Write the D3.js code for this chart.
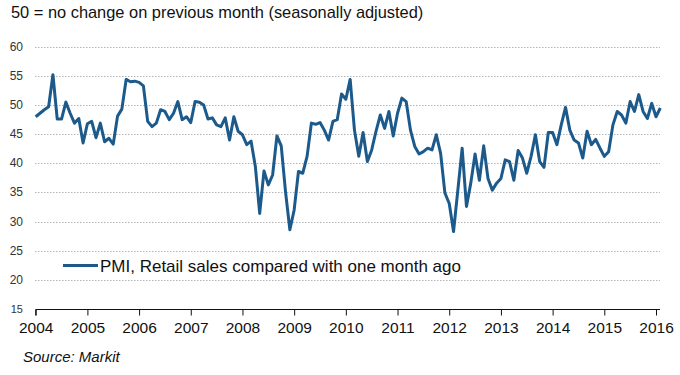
<!DOCTYPE html>
<meta charset="utf-8">
<style>
  body { margin: 0; background: #fff; }
  svg { display: block; font-family: "Liberation Sans", Arial, sans-serif; }
  .grid line { stroke: #b5b5b5; stroke-dasharray: 1.5,1.5; stroke-width: 1; }
  .ylab { fill: #333; font-size: 12px; }
  .xaxis text { fill: #111; font-size: 15.5px; }
</style>
<body>
<script src="https://cdn.jsdelivr.net/npm/d3@7"></script>
<script>
// monthly PMI readings, Jan 2004 .. Feb 2016
const startYear = 2004;
const pmi = [
  48.0, 48.6, 49.2, 49.7, 55.2, 47.6, 47.6, 50.5, 48.6, 46.9, 47.7, 43.5,
  46.8, 47.2, 44.4, 46.9, 43.7, 44.3, 43.3, 48.1, 49.3, 54.4, 54.0, 54.1,
  53.9, 53.3, 47.2, 46.3, 46.9, 49.2, 48.9, 47.5, 48.6, 50.6, 47.5, 48.0,
  47.0, 50.6, 50.5, 50.0, 47.6, 47.8, 46.6, 46.3, 47.8, 44.0, 48.0, 45.5,
  44.9, 43.2, 43.8, 39.4, 31.4, 38.7, 36.3, 38.0, 44.7, 43.0, 35.1, 28.6,
  32.0, 38.6, 38.3, 41.2, 46.9, 46.7, 47.0, 45.7, 44.0, 47.2, 47.5, 51.9,
  51.0, 54.4, 45.7, 41.2, 45.3, 40.3, 42.3, 45.5, 48.3, 46.0, 48.9, 44.7,
  48.6, 51.2, 50.6, 45.7, 42.9, 41.6, 42.0, 42.6, 42.3, 44.9, 41.7, 34.9,
  33.1, 28.3, 35.4, 42.6, 32.6, 36.6, 41.6, 37.1, 43.0, 37.4, 35.4, 36.6,
  37.4, 40.6, 40.3, 37.1, 42.2, 40.9, 38.3, 41.2, 44.9, 40.3, 39.3, 45.3,
  45.3, 43.2, 46.6, 49.6, 45.7, 44.0, 43.5, 40.9, 45.5, 43.2, 44.1, 42.6,
  41.2, 42.0, 46.6, 48.9, 48.3, 46.9, 50.6, 48.9, 51.8, 48.9, 47.7, 50.3,
  48.0, 49.5
];
const yTicks = [15, 20, 25, 30, 35, 40, 45, 50, 55, 60];
const xYears = d3.range(2004, 2017);
const title = "50 = no change on previous month (seasonally adjusted)";
const seriesName = "PMI, Retail sales compared with one month ago";
const source = "Source: Markit";

const W = 680, H = 375;
const x = d3.scaleLinear().domain([2004, 2016]).range([35.7, 656]);
const y = d3.scaleLinear().domain([15, 60]).range([309, 46.8]);

const data = pmi.map((v, i) => ({ t: startYear + i / 12, v }));

const svg = d3.select("body").append("svg")
  .attr("width", W).attr("height", H);

svg.append("text")
  .attr("x", 11).attr("y", 18)
  .attr("font-size", 16.4).attr("fill", "#111")
  .text(title);

// gridlines
svg.append("g").attr("class", "grid")
  .selectAll("line")
  .data(yTicks.filter(d => d > 15))
  .join("line")
    .attr("x1", 35).attr("x2", 660)
    .attr("y1", d => Math.round(y(d)) + 0.5)
    .attr("y2", d => Math.round(y(d)) + 0.5);

svg.append("g")
  .selectAll("text")
  .data(yTicks)
  .join("text")
    .attr("class", "ylab")
    .attr("x", 23).attr("text-anchor", "end")
    .attr("y", d => y(d) + 4)
    .style("font-size", d => d === 15 ? "11px" : "12px")
    .text(d => d);

// x axis
const xAxis = d3.axisBottom(x)
  .tickValues(xYears)
  .tickFormat(d3.format("d"))
  .tickSize(6)
  .tickPadding(6)
  .tickSizeOuter(0);

const gx = svg.append("g")
  .attr("class", "xaxis")
  .attr("transform", `translate(0,${Math.round(y(15)) + 0.5})`)
  .call(xAxis);
gx.select(".domain").attr("d", `M${x(2004)},6V0H660`).attr("stroke", "#111");
gx.selectAll(".tick line").attr("stroke", "#111");
gx.selectAll(".tick text").attr("font-family", null).attr("font-size", null);

// series
const line = d3.line().x(d => x(d.t)).y(d => y(d.v));
svg.append("path")
  .datum(data)
  .attr("fill", "none")
  .attr("stroke", "#1c5a8c")
  .attr("stroke-width", 3)
  .attr("stroke-linejoin", "round")
  .attr("d", line);

// legend
svg.append("line")
  .attr("x1", 63).attr("x2", 98)
  .attr("y1", 265.5).attr("y2", 265.5)
  .attr("stroke", "#1c5a8c").attr("stroke-width", 3);
svg.append("text")
  .attr("x", 100).attr("y", 271.5)
  .attr("font-size", 17).attr("fill", "#111")
  .text(seriesName);

svg.append("text")
  .attr("x", 23).attr("y", 362)
  .attr("font-size", 15).attr("font-style", "italic").attr("fill", "#111")
  .text(source);
</script>
</body>
